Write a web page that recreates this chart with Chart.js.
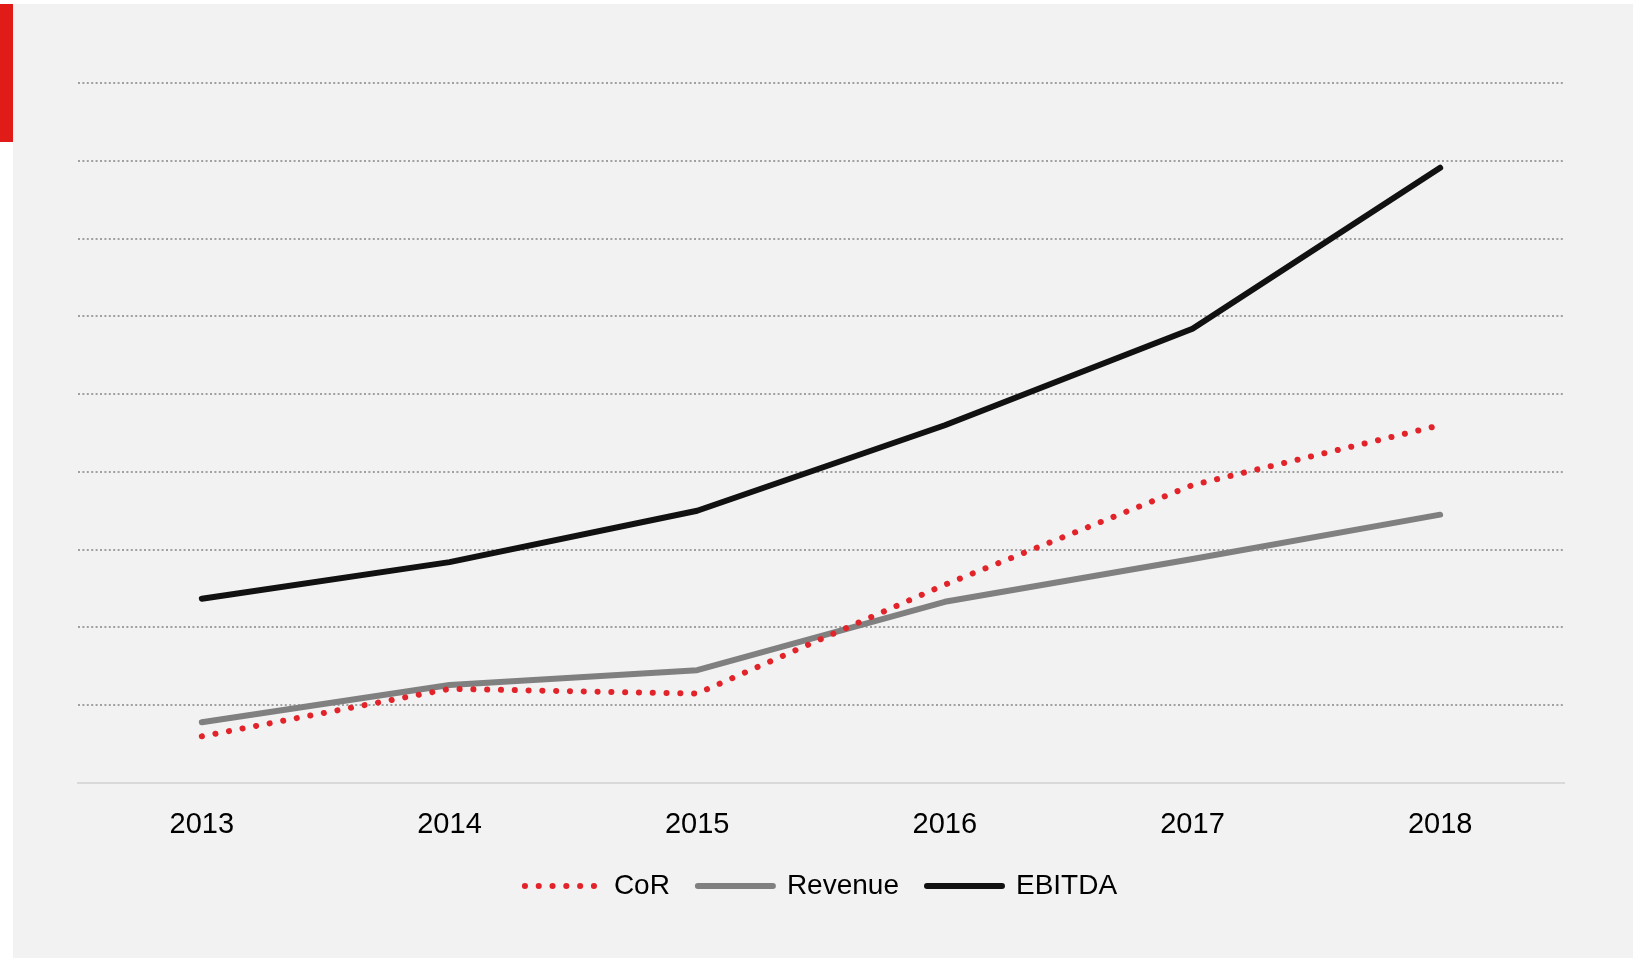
<!DOCTYPE html>
<html>
<head>
<meta charset="utf-8">
<script src="https://cdn.jsdelivr.net/npm/chart.js@4"></script>
<style>
  body { margin: 0; background: #ffffff; }
  #panel { position: absolute; left: 13px; top: 4px; width: 1620px; height: 954px; background: #f2f2f2; }
  #flag { position: absolute; left: 0; top: 4px; width: 13px; height: 138px; background: #e11b17; }
</style>
</head>
<body>
<div id="flag"></div>
<div id="panel"><canvas id="myChart"></canvas></div>
<script>
// years and series
const years = ['2013', '2014', '2015', '2016', '2017', '2018'];
const cor = [6.0, 12.1, 11.5, 25.5, 38.3, 46.0];
const revenue = [7.8, 12.6, 14.5, 23.3, 28.8, 34.5];
const ebitda = [23.7, 28.4, 35.0, 46.0, 58.4, 79.1];

const ctx = document.getElementById('myChart');

new Chart(ctx, {
  type: 'line',
  data: {
    labels: years,
    datasets: [
      {
        label: 'CoR',
        data: cor,
        borderColor: '#e3232a',
        borderWidth: 6,
        borderDash: [0.1, 13.7],
        borderCapStyle: 'round'
      },
      {
        label: 'Revenue',
        data: revenue,
        borderColor: '#808080',
        borderWidth: 6,
        borderCapStyle: 'round'
      },
      {
        label: 'EBITDA',
        data: ebitda,
        borderColor: '#111111',
        borderWidth: 6,
        borderCapStyle: 'round'
      }
    ]
  },
  options: {
    responsive: true,
    maintainAspectRatio: false,
    animation: false,
    elements: {
      point: { radius: 0, hoverRadius: 0 },
      line: { tension: 0, borderJoinStyle: 'round', fill: false }
    },
    layout: {
      padding: { left: 65, right: 69, top: 79, bottom: 48 }
    },
    scales: {
      x: {
        offset: true,
        grid: { display: false, drawTicks: false },
        border: { display: true, color: '#d9d9d9', width: 2 },
        ticks: { color: '#000000', padding: 25, font: { family: "'Liberation Sans', sans-serif", size: 29 } },
        afterFit: scale => { scale.height = 61; }
      },
      y: {
        min: 0,
        max: 90,
        ticks: { display: false, stepSize: 10 },
        border: { display: false, dash: [2, 2.4] },
        grid: {
          drawTicks: false,
          lineWidth: 2,
          color: c => c.tick && c.tick.value === 0 ? 'rgba(0,0,0,0)' : '#a0a0a0'
        }
      }
    },
    plugins: {
      tooltip: { enabled: false },
      legend: {
        display: true,
        position: 'bottom',
        labels: {
          color: '#000000',
          font: { family: "'Liberation Sans', sans-serif", size: 28 },
          padding: 28,
          usePointStyle: true,
          pointStyleWidth: 75,
          // line samples instead of boxes
          generateLabels: chart => chart.data.datasets.map((ds, i) => ({
            text: ds.label,
            datasetIndex: i,
            pointStyle: 'line',
            strokeStyle: ds.borderColor,
            fillStyle: ds.borderColor,
            fontColor: '#000000',
            lineWidth: ds.borderWidth,
            lineCap: 'round',
            lineDash: ds.borderDash || [],
            hidden: false
          }))
        }
      }
    }
  }
});
</script>
</body>
</html>
